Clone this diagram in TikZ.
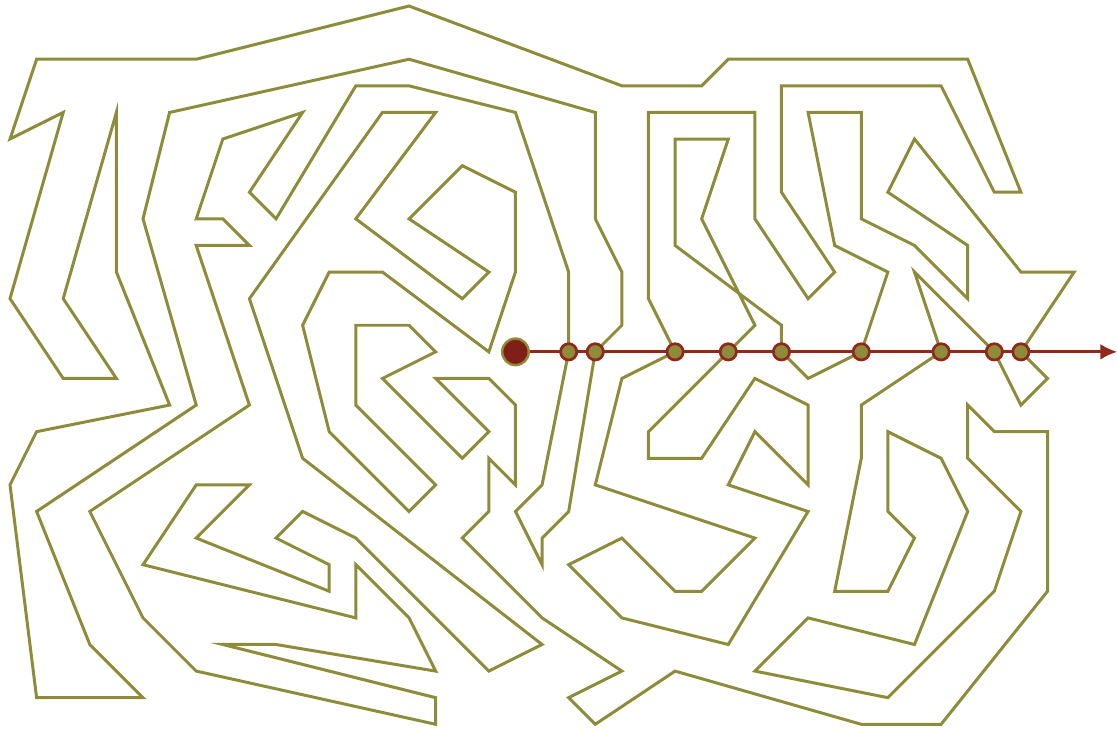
\documentclass[tikz,border=0pt]{standalone}
\usetikzlibrary{arrows.meta}
\definecolor{olivewall}{RGB}{142,140,58}
\definecolor{raycol}{RGB}{145,40,28}
\definecolor{dotfill}{RGB}{128,30,24}
\begin{document}
\begin{tikzpicture}[x=0.5cm,y=-0.5cm,
  wall/.style={draw=olivewall,line width=1.6pt,line join=miter},
  ray/.style={draw=raycol,line width=1.5pt,-{Latex[length=9pt,width=8.5pt]}},
  crossing/.style={circle,fill=olivewall,draw=raycol,line width=1.45pt,minimum size=8.7pt,inner sep=0pt},
  startdot/.style={circle,fill=dotfill,draw=olivewall,line width=1.3pt,minimum size=14.2pt,inner sep=0pt}]
\useasboundingbox (-0.376,-0.226) rectangle (41.65,27.22);
% crossing points of the ray
\coordinate (p21) at (21,13);
\coordinate (p22) at (22,13);
\coordinate (p25) at (25,13);
\coordinate (p27) at (27,13);
\coordinate (p29) at (29,13);
\coordinate (p32) at (32,13);
\coordinate (p35) at (35,13);
\coordinate (p37) at (37,13);
\coordinate (p38) at (38,13);
\coordinate (rayend) at (41.62,13);
% the closed maze curve
\draw[wall] (p25) -- (24,11) -- (24,4) -- (28,4) -- (28,8) -- (30,11) -- (31,10) -- (29,7) -- (29,3) -- (35,3) -- (37,7) -- (38,7) -- (36,2) -- (27,2) -- (26,3) -- (23,3) -- (15,0) -- (7,2) -- (1,2) -- (0,5) -- (2,4) -- (0,11) -- (2,14) -- (4,14) -- (2,11) -- (4,4) -- (4,10) -- (6,15) -- (1,16) -- (0,18) -- (1,26) -- (5,26) -- (3,24) -- (1,19) -- (7,15) -- (5,8) -- (6,4) -- (15,2) -- (22,4) -- (22,8) -- (23,10) -- (23,12) -- (p22)
 -- (21,19) -- (20,20) -- (20,21) -- (19,19) -- (20,18) -- (p21)
 -- (21,10) -- (19,4) -- (15,3) -- (13,3) -- (10,8) -- (9,7) -- (11,4) -- (8,5) -- (7,8) -- (8,8) -- (9,9) -- (7,9) -- (9,15) -- (3,19) -- (5,23) -- (7,25) -- (16,27) -- (16,26) -- (8,24) -- (10,24) -- (16,25) -- (15,23) -- (13,21) -- (13,23) -- (5,21) -- (7,18) -- (9,18) -- (7,20) -- (12,22) -- (12,21) -- (10,20) -- (11,19) -- (13,20) -- (18,25) -- (20,24) -- (11,17) -- (9,11) -- (14,4) -- (16,4) -- (13,8) -- (17,11) -- (18,10) -- (15,8) -- (17,6) -- (19,7) -- (19,10) -- (18,13) -- (14,10) -- (12,10) -- (11,12) -- (12,16) -- (15,19) -- (16,18) -- (13,15) -- (13,12) -- (15,12) -- (16,13) -- (14,14) -- (17,17) -- (18,16) -- (16,14) -- (18,14) -- (19,15) -- (19,18) -- (18,17) -- (18,19) -- (17,20) -- (20,23) -- (23,25) -- (21,26) -- (22,27) -- (25,25) -- (32,27) -- (35,27) -- (39,22) -- (39,16) -- (37,16) -- (36,15) -- (36,17) -- (38,19) -- (37,22) -- (33,26) -- (28,25) -- (30,23) -- (34,24) -- (36,19) -- (35,17) -- (33,16) -- (33,19) -- (34,20) -- (33,22) -- (31,22) -- (32,17) -- (32,15) -- (p35)
 -- (34,10) -- (p37)
 -- (38,15) -- (39,14) -- (p38)
 -- (40,10) -- (38,10) -- (34,5) -- (33,7) -- (36,9) -- (36,11) -- (34,9) -- (32,8) -- (32,4) -- (30,4) -- (31,9) -- (33,10) -- (p32)
 -- (30,14) -- (p29)
 -- (29,12) -- (25,9) -- (25,5) -- (27,5) -- (26,8) -- (28,12) -- (p27)
 -- (24,16) -- (24,17) -- (26,17) -- (28,14) -- (30,15) -- (30,18) -- (28,16) -- (27,18) -- (30,19) -- (27,24) -- (23,23) -- (21,21) -- (23,20) -- (25,22) -- (26,22) -- (28,20) -- (22,18) -- (23,14) -- cycle;
% start point and ray
\node[startdot] (start) at (19,13) {};
\draw[ray] (start) -- (rayend);
% crossing markers
\foreach \c in {21,22,25,27,29,32,35,37,38}
  \node[crossing] (c\c) at (p\c) {};
\end{tikzpicture}
\end{document}
